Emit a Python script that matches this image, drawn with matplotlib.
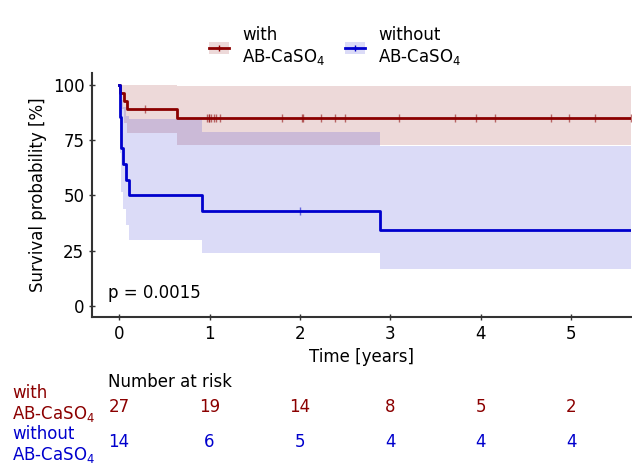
import matplotlib
matplotlib.use("Agg")
import matplotlib.pyplot as plt
import matplotlib.transforms as mtransforms
from matplotlib.patches import Patch
from matplotlib.lines import Line2D
import numpy as np

plt.rcParams['font.family'] = ['DejaVu Sans']
plt.rcParams['font.size'] = 12

# ---- data ----
t_end = 5.66

with_times = [0.0, 0.011, 0.055, 0.092, 0.645]
with_surv = [100.0, 96.3, 92.6, 88.9, 85.2]
with_ci_low = [100.0, 89.0, 83.0, 78.3, 72.9]
with_ci_up = [100.0, 100.0, 100.0, 100.0, 99.7]
with_censor = [0.29, 0.977, 0.99, 0.999, 1.02, 1.045, 1.07, 1.11, 1.80, 2.02, 2.035,
               2.23, 2.39, 2.50, 3.09, 3.71, 3.95, 4.16, 4.78, 4.97, 5.26, 5.66]

without_times = [0.0, 0.010, 0.015, 0.020, 0.025, 0.048, 0.077, 0.110, 0.92, 2.89]
without_surv = [100.0, 92.9, 85.7, 78.6, 71.4, 64.3, 57.1, 50.0, 42.9, 34.3]
without_ci_low = [100.0, 78.0, 69.0, 60.0, 51.7, 43.9, 36.7, 29.9, 23.8, 16.6]
without_ci_up = [100.0, 100.0, 100.0, 97.0, 93.0, 90.0, 86.0, 84.6, 78.7, 72.4]
without_censor = [2.0]

risk_times = [0, 1, 2, 3, 4, 5]
at_risk_with = [27, 19, 14, 8, 5, 2]
at_risk_without = [14, 6, 5, 4, 4, 4]

label_with = "with\nAB-CaSO$_4$"
label_without = "without\nAB-CaSO$_4$"
p_text = "p = 0.0015"

col_with = '#8b0000'
col_without = '#0000cd'

# ---- figure ----
fig = plt.figure(figsize=(6.32, 4.65), dpi=100)
ax = fig.add_axes([92/632, 1-317/465, (631-92)/632, (317-73)/465])


def step_at(times, values, t):
    idx = np.searchsorted(times, t, side='right') - 1
    return np.asarray(values)[idx]


def draw(times, surv, lo, up, cens, col, alpha):
    tt = list(times) + [t_end]
    ss = list(surv) + [surv[-1]]
    ll = list(lo) + [lo[-1]]
    uu = list(up) + [up[-1]]
    ax.fill_between(tt, ll, uu, step='post', color=col, alpha=alpha, lw=0)
    ax.step(tt, ss, where='post', color=col, lw=2)
    cy = [step_at(times, surv, c) for c in cens]
    ax.plot(cens, cy, ls='none', marker='|', ms=6, mew=1, color=col, alpha=0.55)


draw(with_times, with_surv, with_ci_low, with_ci_up, with_censor, col_with, 0.15)
draw(without_times, without_surv, without_ci_low, without_ci_up, without_censor, col_without, 0.14)

ax.set_xlim(-0.30, t_end)
ax.set_ylim(-5, 105.4)
ax.set_xticks([0, 1, 2, 3, 4, 5])
ax.set_yticks([0, 25, 50, 75, 100])
ax.set_xlabel("Time [years]", labelpad=4)
ax.set_ylabel("Survival probability [%]")
for s in ['top', 'right']:
    ax.spines[s].set_visible(False)
for s in ['left', 'bottom']:
    ax.spines[s].set_color('#333333')
    ax.spines[s].set_linewidth(1.5)
ax.tick_params(direction='inout', length=4, width=1, colors='#333333', labelcolor='black')

ax.text(0.03, 0.06, p_text, transform=ax.transAxes, fontsize=12, va='bottom', ha='left')

# legend
h_with = (Patch(facecolor=col_with, alpha=0.15, lw=0),
          Line2D([], [], color=col_with, lw=2, marker='+', ms=5))
h_without = (Patch(facecolor=col_without, alpha=0.14, lw=0),
             Line2D([], [], color=col_without, lw=2, marker='+', ms=5))
fig.legend([h_with, h_without], [label_with, label_without], ncol=2, frameon=False,
           loc='upper center', bbox_to_anchor=(0.530, 0.976), fontsize=12,
           handlelength=1.2, columnspacing=1.15, handletextpad=0.8)

# number at risk table
trans = mtransforms.blended_transform_factory(ax.transData, fig.transFigure)
fig.text(108/632, 1-382/465, "Number at risk", ha='left', va='center', fontsize=12)
for t, n in zip(risk_times, at_risk_with):
    fig.text(t, 1-407/465, str(n), transform=trans, ha='center', va='center',
             color=col_with, fontsize=12)
for t, n in zip(risk_times, at_risk_without):
    fig.text(t, 1-442/465, str(n), transform=trans, ha='center', va='center',
             color=col_without, fontsize=12)
fig.text(12/632, 1-404/465, label_with, ha='left', va='center', color=col_with,
         fontsize=12, linespacing=1.2)
fig.text(12/632, 1-445/465, label_without, ha='left', va='center', color=col_without,
         fontsize=12, linespacing=1.1)

fig.savefig("out.png", dpi=100)
